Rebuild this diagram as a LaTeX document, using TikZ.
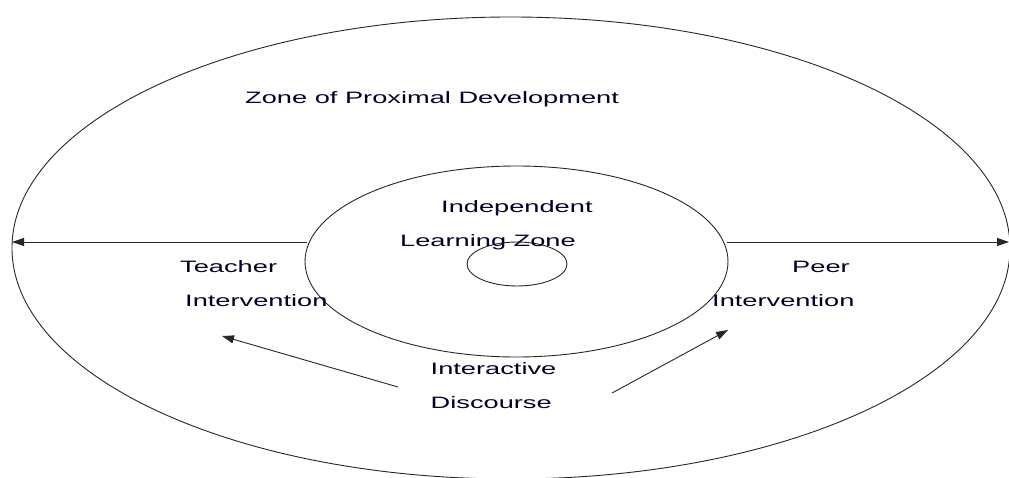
\documentclass[tikz,border=0pt]{standalone}
\usepackage{fontspec}
\setmainfont{Liberation Sans}
\usetikzlibrary{shapes.geometric,arrows.meta}
\newcommand{\widetext}[1]{\scalebox{1.65}[1]{#1}}
\tikzset{
  x=1pt, y=-1pt,
  zone/.style={ellipse, draw=black!85, line width=0.9pt, inner sep=0pt},
  lbl/.style={anchor=base west, inner sep=0pt, text=black!85!blue, font=\fontsize{16.5}{20}\selectfont},
  conn/.style={draw=black!85, line width=0.9pt, -{Triangle[length=12pt,width=8pt]}}
}
\begin{document}
\begin{tikzpicture}
\useasboundingbox (0,0) rectangle (1009,478);
\clip (0,0) rectangle (1009,478);
% zones
\node[zone, minimum width=998pt, minimum height=462pt] (outer) at (511,248) {};
\node[zone, minimum width=423pt, minimum height=191pt] (mid) at (516.5,261.5) {};
\node[zone, minimum width=100pt, minimum height=44pt] (inner) at (517,264) {};
% labels
\node[lbl] (zpd) at (245,104) {\widetext{Zone of Proximal Development}};
\node[lbl] (ind) at (441,213) {\widetext{Independent}};
\node[lbl] (lz) at (400,247) {\widetext{Learning Zone}};
\node[lbl] (teach) at (180,272.5) {\widetext{Teacher}};
\node[lbl] (tint) at (185,306.5) {\widetext{Intervention}};
\node[lbl] (peer) at (792,272.5) {\widetext{Peer}};
\node[lbl] (pint) at (712,306.5) {\widetext{Intervention}};
\node[lbl] (inter) at (430.5,374.3) {\widetext{Interactive}};
\node[lbl] (disc) at (430.5,408.3) {\widetext{Discourse}};
% connector end points
\coordinate (midL) at (307,242);
\coordinate (outL) at (12,242);
\coordinate (midR) at (727,242);
\coordinate (outR) at (1009,242);
\coordinate (dL) at (398,387);
\coordinate (tL) at (222,336);
\coordinate (dR) at (612,393);
\coordinate (tR) at (728,330);
% connectors
\draw[conn] (midL) -- (outL);
\draw[conn] (midR) -- (outR);
\draw[conn] (dL) -- (tL);
\draw[conn] (dR) -- (tR);
\end{tikzpicture}
\end{document}
